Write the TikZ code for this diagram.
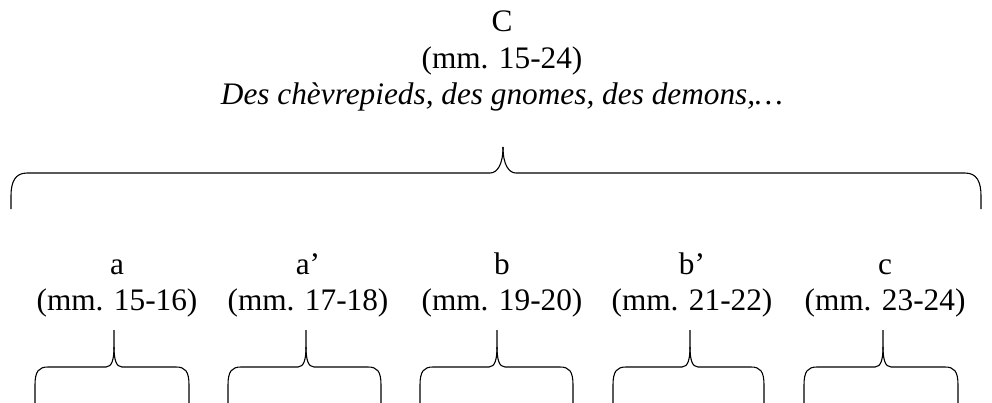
\documentclass[tikz,border=0pt]{standalone}
\usepackage{fontspec}
\setmainfont{Liberation Serif}
\newcommand{\bracedraw}[6]{%
  % #1 left x, #2 tip x, #3 right x, #4 tip top y, #5 horizontal y, #6 bottom y
  \draw[bracestyle] (#1,#6) -- (#1,#5+18) .. controls (#1,#5+4) and (#1+4,#5) .. (#1+13,#5)
    -- (#2-8,#5) .. controls (#2-2,#5) and (#2,#5-8) .. (#2,#5-20) -- (#2,#4);
  \draw[bracestyle] (#3,#6) -- (#3,#5+18) .. controls (#3,#5+4) and (#3-4,#5) .. (#3-13,#5)
    -- (#2+8,#5) .. controls (#2+2,#5) and (#2,#5-8) .. (#2,#5-20);
}
\begin{document}
\begin{tikzpicture}[x=1pt,y=-1pt,
  bracestyle/.style={line width=1.1pt,black,line join=round},
  lbl/.style={anchor=base,inner sep=0pt,font=\fontsize{31.3}{37}\selectfont}]
\useasboundingbox (0,0) rectangle (992,402);
\node[lbl] (tC) at (502,31) {C};
\node[lbl] (tCm) at (502,68) {(mm. 15-24)};
\node[lbl] (tCt) at (502,104) {\itshape Des chèvrepieds, des gnomes, des demons,…};
% big brace
\draw[bracestyle] (11,209) -- (11,196) .. controls (11,182) and (15,173) .. (27,173)
  -- (490,173) .. controls (497,173) and (503,165) .. (503,147);
\draw[bracestyle] (981,209) -- (981,196) .. controls (981,182) and (977,173) .. (965,173)
  -- (516,173) .. controls (509,173) and (503,165) .. (503,147);
% labels
\node[lbl] (la) at (117,274) {a};
\node[lbl] (lam) at (117,310) {(mm. 15-16)};
\node[lbl] (lap) at (308,274) {a’};
\node[lbl] (lapm) at (308,310) {(mm. 17-18)};
\node[lbl] (lb) at (502,274) {b};
\node[lbl] (lbm) at (502,310) {(mm. 19-20)};
\node[lbl] (lbp) at (692,274) {b’};
\node[lbl] (lbpm) at (692,310) {(mm. 21-22)};
\node[lbl] (lc) at (885,274) {c};
\node[lbl] (lcm) at (885,310) {(mm. 23-24)};
% small braces
\bracedraw{35}{114}{189}{330}{367}{403}
\bracedraw{228}{306}{381}{330}{367}{403}
\bracedraw{420}{497}{573}{330}{367}{403}
\bracedraw{613}{690}{764}{330}{367}{403}
\bracedraw{804}{883}{958}{330}{367}{403}
\end{tikzpicture}
\end{document}
